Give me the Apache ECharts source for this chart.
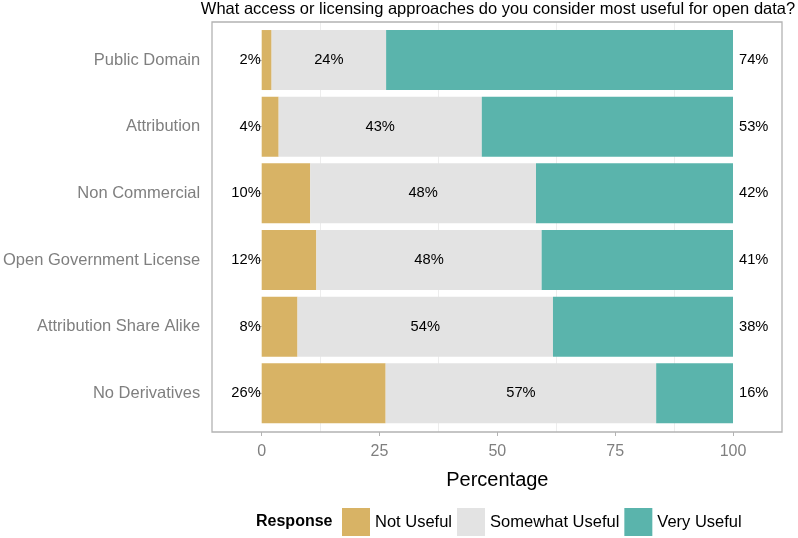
<!DOCTYPE html>
<html>
<head>
<meta charset="utf-8">
<script src="https://cdn.jsdelivr.net/npm/echarts@6/dist/echarts.min.js"></script>
<style>
html,body{margin:0;padding:0;background:#fff;}
#chart{width:798px;height:538px;}
</style>
</head>
<body>
<div id="chart"></div>
<script>
const categories = ['Public Domain', 'Attribution', 'Non Commercial', 'Open Government License', 'Attribution Share Alike', 'No Derivatives'];
const notUseful = [2.1, 3.6, 10.3, 11.6, 7.6, 26.3];
const somewhatUseful = [24.3, 43.1, 47.9, 47.8, 54.2, 57.4];
const veryUseful = [73.6, 53.3, 41.8, 40.6, 38.2, 16.3];
const seriesNames = ['Not Useful', 'Somewhat Useful', 'Very Useful'];
const xTicks = [0, 25, 50, 75, 100];
const titleText = 'What access or licensing approaches do you consider most useful for open data?';

const FONT = 'Liberation Sans, Arial, Helvetica, sans-serif';
const chart = echarts.init(document.getElementById('chart'), null, {renderer: 'canvas'});
const pct = p => Math.round(p.value) + '%';
const labelStyle = {show: true, formatter: pct, fontSize: 14.7, color: '#000', fontFamily: FONT};

const option = {
  animation: false,
  backgroundColor: '#fff',
  textStyle: {fontFamily: FONT},
  grid: [
    {left: 261, right: 65, top: 22, bottom: 106},
    {left: 261, right: 65, top: 26.7, height: 400}
  ],
  xAxis: [
    {gridIndex: 0, type: 'value', min: xTicks[0], max: xTicks[xTicks.length - 1], interval: 25,
     axisLine: {show: false}, axisTick: {show: false}, axisLabel: {show: false},
     splitLine: {show: false},
     minorTick: {show: false, splitNumber: 2},
     minorSplitLine: {show: true, lineStyle: {color: '#ededed', width: 1}}},
    {gridIndex: 1, type: 'value', min: xTicks[0], max: xTicks[xTicks.length - 1], interval: 25,
     offset: 5.3,
     axisLine: {show: false},
     axisTick: {show: true, length: 4, lineStyle: {color: '#b3b3b3', width: 1}},
     axisLabel: {fontSize: 16, color: '#7f7f7f', margin: 12, fontFamily: FONT},
     splitLine: {show: false},
     name: 'Percentage', nameLocation: 'middle', nameGap: 38,
     nameTextStyle: {fontSize: 20, color: '#000', fontFamily: FONT}}
  ],
  yAxis: [
    {gridIndex: 0, type: 'value', show: false},
    {gridIndex: 1, type: 'category', data: categories, inverse: true,
     offset: 49,
     axisLine: {show: false},
     axisTick: {show: true, alignWithLabel: true, length: 4, lineStyle: {color: '#b3b3b3', width: 1}},
     axisLabel: {fontSize: 16.5, color: '#7f7f7f', margin: 12.5, fontFamily: FONT},
     splitLine: {show: false}}
  ],
  legend: {
    data: seriesNames, left: 342, top: 508, padding: 0, itemWidth: 28, itemHeight: 28, itemGap: 5,
    icon: 'rect', textStyle: {fontSize: 16.5, color: '#000', fontFamily: FONT},
    selectedMode: false
  },
  graphic: [
    {type: 'rect', shape: {x: 212, y: 22, width: 570, height: 410}, z: 100, silent: true,
     style: {fill: 'none', stroke: '#b3b3b3', lineWidth: 1.3}},
    {type: 'text', x: 498, y: 9, silent: true,
     style: {text: titleText, font: '16.5px ' + FONT, fill: '#000', textAlign: 'center', align: 'center', textVerticalAlign: 'middle', verticalAlign: 'middle'}},
    {type: 'text', x: 256, y: 522, silent: true,
     style: {text: 'Response', font: 'bold 16px ' + FONT, fill: '#000', textAlign: 'left', align: 'left', textVerticalAlign: 'middle', verticalAlign: 'middle'}}
  ],
  series: [
    {name: seriesNames[0], type: 'bar', stack: 'a', xAxisIndex: 1, yAxisIndex: 1, barWidth: 60,
     itemStyle: {color: '#D8B365'}, data: notUseful,
     label: Object.assign({position: 'left', distance: 1}, labelStyle)},
    {name: seriesNames[1], type: 'bar', stack: 'a', xAxisIndex: 1, yAxisIndex: 1, barWidth: 60,
     itemStyle: {color: '#E3E3E3'}, data: somewhatUseful,
     label: Object.assign({position: 'inside'}, labelStyle)},
    {name: seriesNames[2], type: 'bar', stack: 'a', xAxisIndex: 1, yAxisIndex: 1, barWidth: 60,
     itemStyle: {color: '#5AB4AC'}, data: veryUseful,
     label: Object.assign({position: 'right', distance: 6}, labelStyle)}
  ]
};
chart.setOption(option);
</script>
</body>
</html>
